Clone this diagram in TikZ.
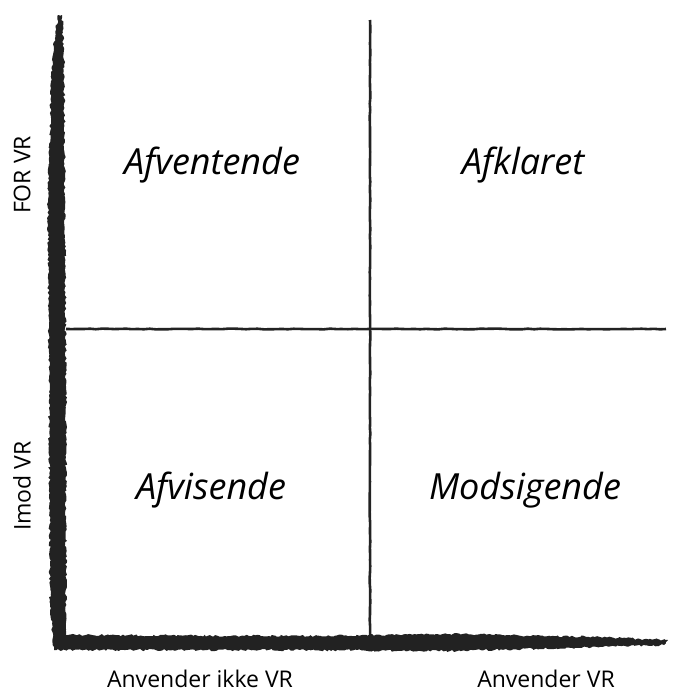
\documentclass[tikz,border=0pt]{standalone}
\usepackage{fontspec}
\setmainfont{Open Sans}
\usetikzlibrary{decorations.pathmorphing}
\definecolor{qink}{HTML}{222222}
\tikzset{
  axisbrush/.style={fill=qink,decorate,decoration={random steps,segment length=2.2pt,amplitude=1.1pt}},
  divider/.style={draw=qink,line width=2.6pt,decorate,decoration={random steps,segment length=6pt,amplitude=0.35pt}},
  quad/.style={font=\fontsize{36}{40}\selectfont\itshape,text=black},
  axlbl/.style={font=\fontsize{23}{26}\selectfont,text=black,inner sep=0pt,text depth=0pt},
}
\begin{document}
\begin{tikzpicture}[x=1pt,y=-1pt]
  \useasboundingbox (0,0) rectangle (679,691);
  \pgfmathsetseed{42}
  % ink axes
  \fill[axisbrush] (58,15) -- (62,15) -- (64,60) -- (65,200) -- (66,400) -- (66,635)
    -- (300,636) -- (450,634) -- (600,637) -- (668,640) -- (664,645) -- (600,647)
    -- (450,651) -- (300,650) -- (54,650) -- (50,600) -- (49,400) -- (48,200) -- (52,60) -- cycle;
  % dividers
  \coordinate (vtop) at (370,20);
  \coordinate (vbot) at (370,640);
  \coordinate (hleft) at (66,329);
  \coordinate (hright) at (666,329);
  \draw[divider] (vtop) -- (vbot);
  \draw[divider] (hleft) -- (hright);
  % quadrants
  \node[quad] (afv) at (212,165) {Afventende};
  \node[quad] (afk) at (523,165) {Afklaret};
  \node[quad] (avs) at (211,490) {Afvisende};
  \node[quad] (mod) at (525,490) {Modsigende};
  % axis labels
  \node[axlbl,rotate=90] (forvr) at (22,175) {FOR VR};
  \node[axlbl,rotate=90] (imodvr) at (22,486) {Imod VR};
  \node[axlbl,anchor=base] (ikke) at (200,687) {Anvender ikke VR};
  \node[axlbl,anchor=base] (anv) at (546,687) {Anvender VR};
\end{tikzpicture}
\end{document}
